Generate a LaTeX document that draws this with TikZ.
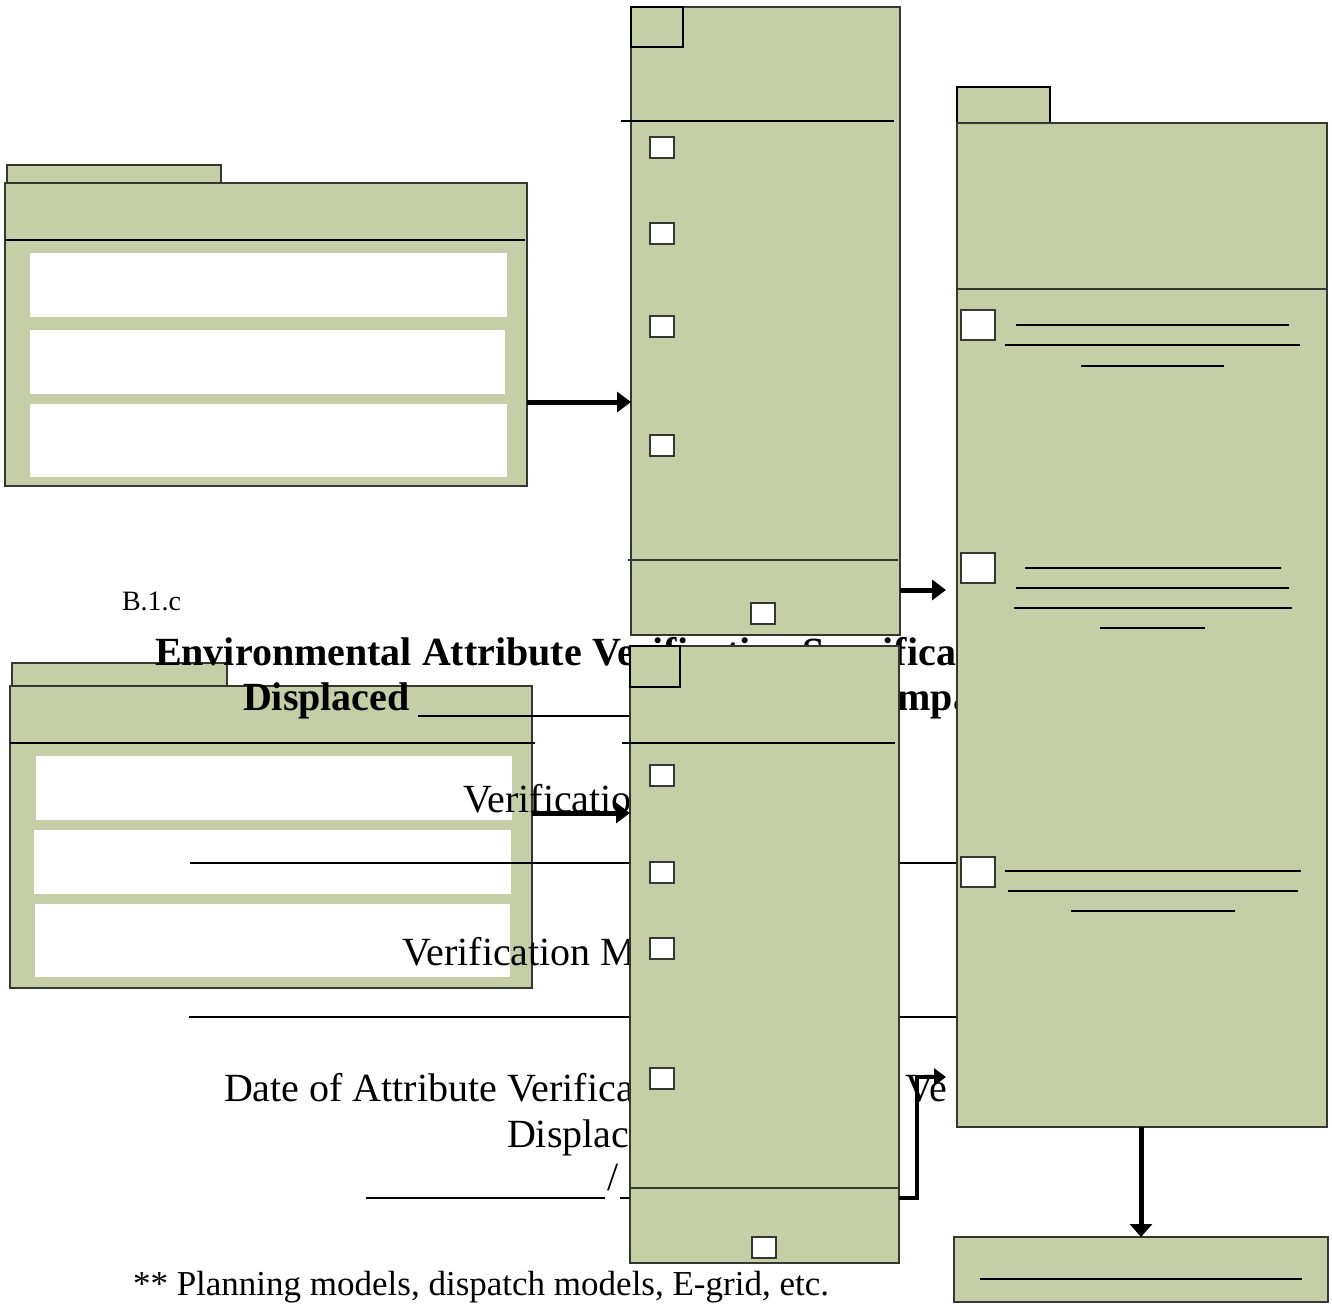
\documentclass[tikz,border=0pt]{standalone}
\usepackage{fontspec}
\setmainfont{Liberation Serif}
\usetikzlibrary{arrows.meta}
\definecolor{boxgreen}{RGB}{198,206,168}
\definecolor{edgegray}{RGB}{55,55,50}
\tikzset{
  box/.style={draw=edgegray, line width=1.3pt, fill=boxgreen, inner sep=0pt, outer sep=0pt, anchor=north west},
  cbox/.style={draw=edgegray, line width=1.1pt, fill=white, inner sep=0pt, outer sep=0pt, anchor=north west},
  wbar/.style={fill=white, draw=none, inner sep=0pt, outer sep=0pt, anchor=north west},
  rulel/.style={draw=black, line width=1.7pt},
  thinl/.style={draw=edgegray, line width=1.2pt},
  txt/.style={inner sep=0pt, outer sep=0pt, anchor=base west, font=\fontsize{40}{46}\selectfont},
  btxt/.style={inner sep=0pt, outer sep=0pt, anchor=base west, font=\bfseries\fontsize{40}{46}\selectfont},
  arr/.style={line width=5pt, -{Triangle[length=14pt,width=20pt]}},
}
\begin{document}
\begin{tikzpicture}[x=1pt,y=-1pt]
\useasboundingbox (0,0) rectangle (1332,1303);
\fill[white] (0,0) rectangle (1332,1303);

% ---- box A (top left folder)
\node[box, minimum width=214pt, minimum height=18pt] (Atab) at (7,165) {};
\node[box, minimum width=522pt, minimum height=303pt] (A) at (5,183) {};
\node[wbar, minimum width=477pt, minimum height=64pt] (A1) at (30,253) {};
\node[wbar, minimum width=475pt, minimum height=64pt] (A2) at (30,330) {};
\node[wbar, minimum width=477pt, minimum height=73pt] (A3) at (30,404) {};
\draw[rulel] (5,240) -- (525,240);

% ---- box F (bottom left folder)
\node[box, minimum width=215pt, minimum height=23pt] (Ftab) at (12,663) {};
\node[box, minimum width=522pt, minimum height=302pt] (F) at (10,686) {};
\node[wbar, minimum width=476pt, minimum height=64pt] (F1) at (36,756) {};
\node[wbar, minimum width=477pt, minimum height=64pt] (F2) at (34,830) {};
\node[wbar, minimum width=475pt, minimum height=73pt] (F3) at (35,904) {};
\draw[rulel] (10,743) -- (535,743);

% ---- texts
\node[txt, font=\fontsize{28}{30}\selectfont] (tB) at (122,610) {B.1.c};
\node[btxt] (tTitle) at (155,665) {Environmental Attribute Verification Specification};
\node[btxt] (tDisp) at (243,710) {Displaced};
\draw[rulel] (418,716) -- (640,716);
\node[btxt] (tImp) at (882,710) {Impact};
\node[txt] (tVer1) at (463,812) {Verification};
\draw[rulel] (190,863) -- (957,863);
\node[txt] (tVer2) at (402,965) {Verification Method};
\draw[rulel] (189,1017) -- (957,1017);
\node[txt] (tDate) at (224,1101) {Date of Attribute Verification};
\node[txt] (tVe) at (905,1101) {Ve};
\node[txt] (tDisp2) at (507,1147) {Displaced};
\draw[rulel] (366,1198) -- (605,1198);
\node[txt] (tSlash) at (607,1190) {/};
\draw[rulel] (620,1198) -- (700,1198);
\node[txt, font=\fontsize{35}{40}\selectfont] (tFoot) at (133,1295) {** Planning models, dispatch models, E-grid, etc.};

% ---- box B (middle top column)
\node[box, minimum width=269pt, minimum height=628pt] (B) at (631,7) {};
\node[box, draw=black, line width=1.1pt, minimum width=52pt, minimum height=40pt] (Bsq) at (631,7) {};
\draw[rulel] (621,121) -- (894,121);
\node[cbox, minimum width=24pt, minimum height=21pt] (Bc1) at (650,137) {};
\node[cbox, minimum width=24pt, minimum height=21pt] (Bc2) at (650,223) {};
\node[cbox, minimum width=24pt, minimum height=21pt] (Bc3) at (650,316) {};
\node[cbox, minimum width=24pt, minimum height=21pt] (Bc4) at (650,435) {};
\draw[thinl] (628,560) -- (898,560);
\node[cbox, minimum width=24pt, minimum height=21pt] (Bc5) at (751,603) {};

% ---- box C (middle bottom column)
\node[box, minimum width=269pt, minimum height=617pt] (C) at (630,646) {};
\node[box, draw=black, line width=1.1pt, minimum width=50pt, minimum height=41pt] (Csq) at (630,646) {};
\draw[rulel] (622,743) -- (895,743);
\node[cbox, minimum width=24pt, minimum height=21pt] (Cc1) at (650,765) {};
\node[cbox, minimum width=24pt, minimum height=21pt] (Cc2) at (650,862) {};
\node[cbox, minimum width=24pt, minimum height=21pt] (Cc3) at (650,938) {};
\node[cbox, minimum width=24pt, minimum height=21pt] (Cc4) at (650,1068) {};
\draw[thinl] (630,1188) -- (899,1188);
\node[cbox, minimum width=24pt, minimum height=21pt] (Cc5) at (752,1237) {};

% ---- box D (right column)
\node[box, draw=black, minimum width=93pt, minimum height=36pt] (Dtab) at (957,87) {};
\node[box, minimum width=370pt, minimum height=1004pt] (D) at (957,123) {};
\draw[thinl] (957,289) -- (1327,289);
\node[cbox, minimum width=34pt, minimum height=30pt] (Dc1) at (961,310) {};
\node[cbox, minimum width=34pt, minimum height=30pt] (Dc2) at (961,553) {};
\node[cbox, minimum width=34pt, minimum height=30pt] (Dc3) at (961,857) {};
\draw[rulel] (1016,325) -- (1289,325);
\draw[rulel] (1005,345) -- (1300,345);
\draw[rulel] (1081,366) -- (1224,366);
\draw[rulel] (1025,568) -- (1281,568);
\draw[rulel] (1016,588) -- (1289,588);
\draw[rulel] (1014,608) -- (1292,608);
\draw[rulel] (1100,628) -- (1205,628);
\draw[rulel] (1005,871) -- (1301,871);
\draw[rulel] (1008,891) -- (1298,891);
\draw[rulel] (1071,911) -- (1235,911);

% ---- box E (bottom right)
\node[box, minimum width=374pt, minimum height=65pt] (E) at (954,1237) {};
\draw[rulel] (980,1279) -- (1302,1279);

% ---- connectors
\draw[arr] (A.east |- 0,402) -- (B.west |- 0,402);
\draw[arr] (F.east |- 0,813) -- (C.west |- 0,813);
\draw[arr, shorten >=11pt] (B.east |- 0,590) -- (D.west |- 0,590);
\draw[line width=4.5pt, -{Triangle[length=12pt,width=17pt]}, shorten >=11pt]
  (C.east |- 0,1198) -- (917,1198) -- (917,1077) -- (D.west |- 0,1077);
\draw[arr, -{Triangle[length=13pt,width=22pt]}] (D.south -| 1141,0) -- (E.north -| 1141,0);
\end{tikzpicture}
\end{document}
